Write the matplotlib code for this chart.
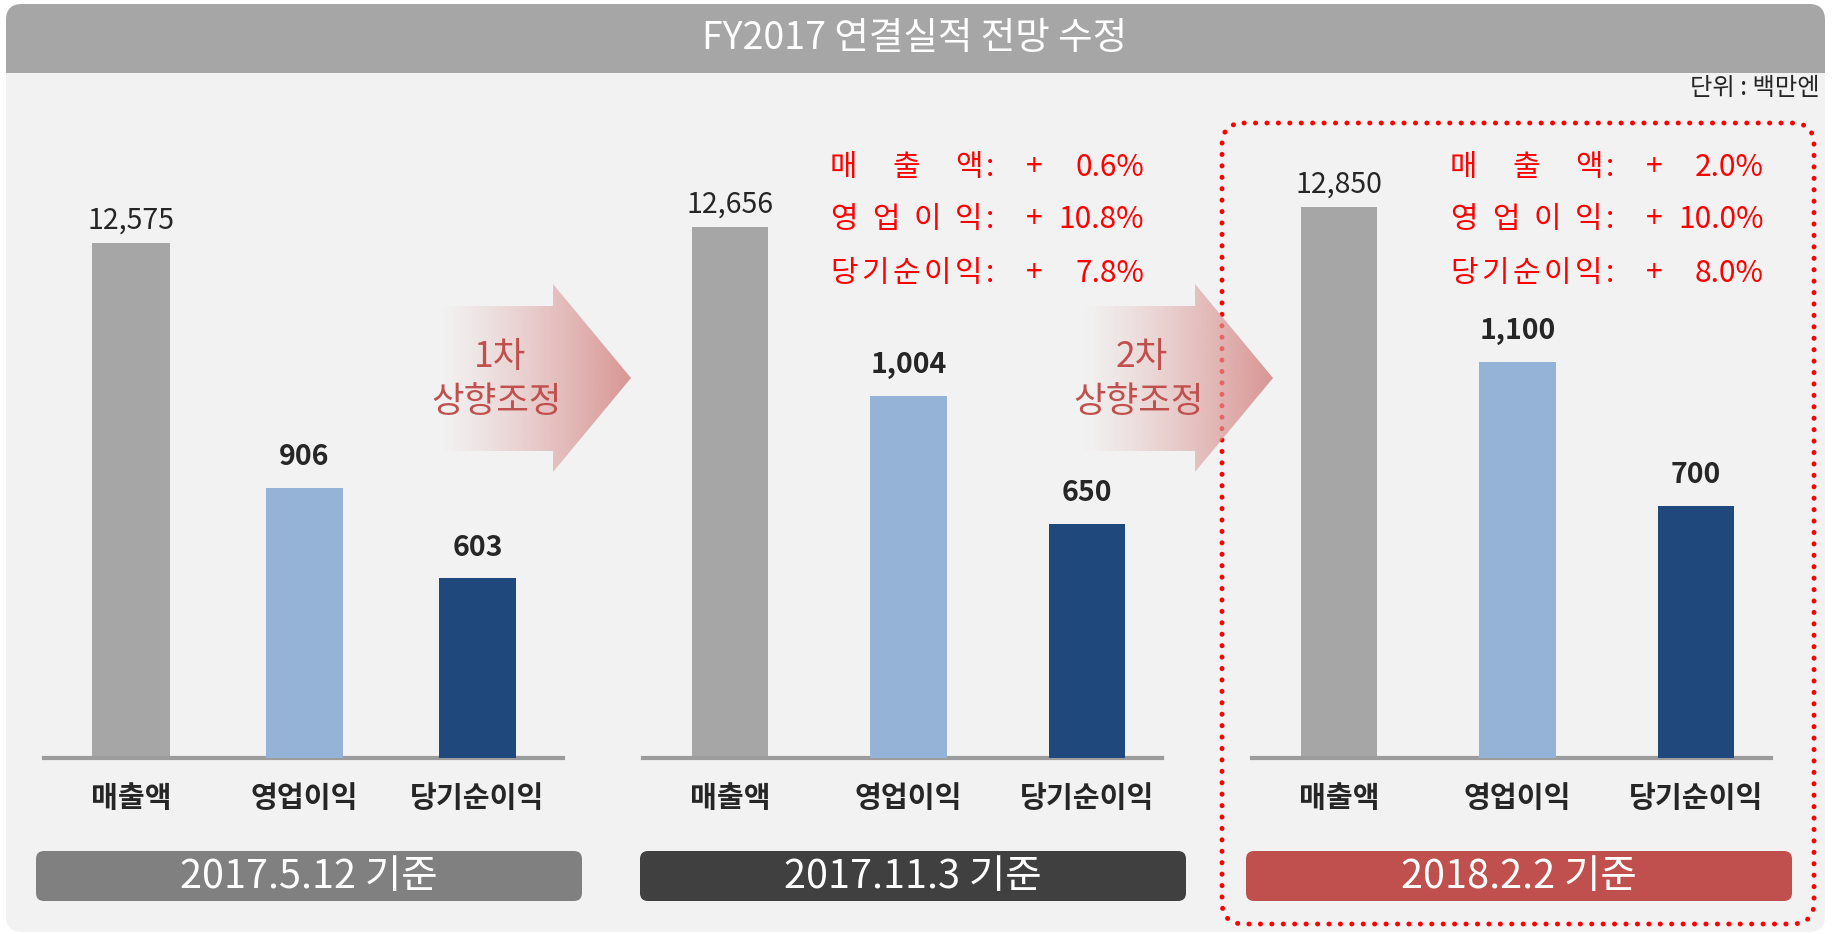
import numpy as np
import matplotlib
matplotlib.use('Agg')
import matplotlib.pyplot as plt
from matplotlib.patches import FancyBboxPatch, Rectangle, Polygon
from matplotlib.colors import to_rgb

plt.rcParams['font.family'] = ['Noto Sans CJK KR', 'DejaVu Sans']

# --- data ---
categories = ['매출액', '영업이익', '당기순이익']
dates = ['2017.5.12 기준', '2017.11.3 기준', '2018.2.2 기준']
sales = [12575, 12656, 12850]
op_profit = [906, 1004, 1100]
net_profit = [603, 650, 700]
rev_labels = ['1차', '2차']
rev_changes = [['0.6%', '10.8%', '7.8%'],
               ['2.0%', '10.0%', '8.0%']]

# --- layout (pixels of a 1839x934 canvas) ---
W, H = 1839, 934
base_y, top_y = 758, 100
line_x = [(44, 563), (643, 1162), (1252, 1771)]
xlims = [(-0.502, 2.494), (-0.487, 2.42), (-0.487, 2.42)]
bar_w = [0.445, 0.43, 0.43]
sales_top = [16067, 15683, 15346]
profit_top = [2208, 1825, 1828]
box_x = [(36, 582), (640, 1186), (1246, 1792)]
box_colors = ['#808080', '#404040', '#c0504d']
bar_colors = ['#a6a6a6', '#95b3d7', '#1f497d']
txt_dark = '#262626'

fig = plt.figure(figsize=(W / 100, H / 100), dpi=100)
fig.patch.set_facecolor('white')

bg = fig.add_axes([0, 0, 1, 1], zorder=0)
bg.set_xlim(0, W)
bg.set_ylim(H, 0)
bg.axis('off')

# panel background and title bar
bg.add_patch(FancyBboxPatch((6, 4), 1819, 928, boxstyle='round,pad=0,rounding_size=16',
                            fc='#f2f2f2', ec='none'))
bg.add_patch(FancyBboxPatch((6, 4), 1819, 100, boxstyle='round,pad=0,rounding_size=16',
                            fc='#a6a6a6', ec='none'))
bg.add_patch(Rectangle((6, 73), 1819, 40, fc='#f2f2f2', ec='none'))
bg.text(915, 39, 'FY2017 연결실적 전망 수정', color='white', fontsize=27,
        ha='center', va='center')
bg.text(1820, 88, '단위 : 백만엔', color=txt_dark, fontsize=17.5, ha='right', va='center')

# red dotted frame around the latest forecast
frame = FancyBboxPatch((1222, 123), 592, 801, boxstyle='round,pad=0,rounding_size=22',
                       fc='none', ec='#ff0000', lw=3.5, ls=(0, (0.05, 2.3)))
frame.set_capstyle('round')
bg.add_patch(frame)

# date boxes
for (x0, x1), c, d in zip(box_x, box_colors, dates):
    bg.add_patch(FancyBboxPatch((x0, 851), x1 - x0, 50, boxstyle='round,pad=0,rounding_size=8',
                                fc=c, ec='none'))
    bg.text((x0 + x1) / 2, 877, d, color='white', fontsize=28.5, ha='center', va='center')

# gradient arrows
arrow_pts = np.array([(440, 306), (553, 306), (553, 284), (631, 378),
                      (553, 472), (553, 451), (440, 451)], dtype=float)
grad = np.zeros((2, 256, 4))
grad[..., :3] = to_rgb('#d99694')
grad[..., 3] = np.linspace(0.0, 1.0, 256) ** 1.2
for k, lab in enumerate(rev_labels):
    pts = arrow_pts + [k * 642, 0]
    poly = Polygon(pts, closed=True, fc='none', ec='none')
    bg.add_patch(poly)
    im = bg.imshow(grad, extent=(pts[:, 0].min(), pts[:, 0].max(), 472, 284),
                   aspect='auto', interpolation='bilinear', zorder=2)
    im.set_clip_path(poly)
    bg.text(500 + k * 642, 357, lab, color='#c0504d', fontsize=25.5, ha='center', va='center', zorder=3)
    bg.text(497 + k * 642, 402, '상향조정', color='#c0504d', fontsize=25.5, ha='center', va='center', zorder=3)

# red change annotations (panels 2 and 3)
for k, x0 in enumerate([830, 1450]):
    for r, (cat, chg) in enumerate(zip(categories, rev_changes[k])):
        y = 167 + r * 53
        n = len(cat)
        for i, ch in enumerate(cat):
            bg.text(x0 + i * 125 / (n - 1), y, ch, color='#ff0000', fontsize=21.5, ha='left', va='center')
        bg.text(x0 + 156, y, ':', color='#ff0000', fontsize=21.5, ha='left', va='center')
        bg.text(x0 + 204, y, '+', color='#ff0000', fontsize=21.5, ha='center', va='center')
        bg.text(x0 + 314, y, chg, color='#ff0000', fontsize=21.5, ha='right', va='center')

# bar panels: sales on one scale, profits on a twin scale
for p in range(3):
    x0, x1 = line_x[p]
    ax = fig.add_axes([x0 / W, (H - base_y) / H, (x1 - x0) / W, (base_y - top_y) / H], zorder=1)
    ax.patch.set_alpha(0)
    ax2 = ax.twinx()
    ax2.patch.set_alpha(0)

    b1 = ax.bar([0], [sales[p]], width=bar_w[p], color=bar_colors[0])
    b2 = ax2.bar([1, 2], [op_profit[p], net_profit[p]], width=bar_w[p], color=bar_colors[1:])
    ax.bar_label(b1, labels=[f'{sales[p]:,}'], padding=5, fontsize=20.5, color=txt_dark)
    ax2.bar_label(b2, labels=[f'{op_profit[p]:,}', f'{net_profit[p]:,}'], padding=12,
                  fontsize=20.5, color=txt_dark, fontweight='bold')

    ax.set_xlim(*xlims[p])
    ax.set_ylim(0, sales_top[p])
    ax2.set_ylim(0, profit_top[p])
    for a in (ax, ax2):
        for s in ['top', 'right', 'left']:
            a.spines[s].set_visible(False)
        a.set_yticks([])
    ax2.spines['bottom'].set_visible(False)
    ax.spines['bottom'].set_color('#9c9c9c')
    ax.spines['bottom'].set_linewidth(3)
    ax.spines['bottom'].set_zorder(5)
    ax.set_xticks([0, 1, 2])
    ax.set_xticklabels(categories, fontsize=21, fontweight='bold', color=txt_dark)
    ax.tick_params(axis='x', length=0, pad=18)

fig.savefig('out.png', dpi=100, facecolor=fig.get_facecolor())
